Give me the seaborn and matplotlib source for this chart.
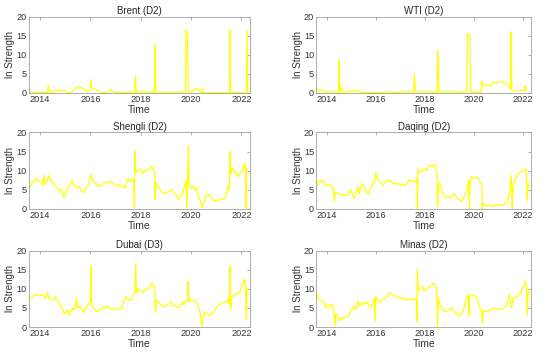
import matplotlib
matplotlib.use("Agg")
import matplotlib.pyplot as plt
import seaborn as sns
import pandas as pd

# ---- data: (decimal year, ln strength) ----
brent = [(2013.57,0.2),(2013.75,0.1),(2013.9,0.3),(2014.05,0.1),(2014.3,0.2),(2014.33,2.0),(2014.36,0.2),
         (2014.5,0.2),(2014.6,0.7),(2014.7,0.8),(2014.8,0.5),(2014.9,0.8),(2015.0,0.6),(2015.07,0.1),
         (2015.25,0.1),(2015.35,0.8),(2015.45,1.5),(2015.55,1.3),(2015.65,1.4),(2015.75,1.0),(2015.85,0.4),
         (2015.98,0.8),(2016.02,3.5),(2016.05,1.2),(2016.15,1.0),(2016.3,0.6),(2016.4,0.1),(2016.6,0.1),
         (2016.72,0.4),(2016.8,1.0),(2016.88,0.4),(2017.0,0.1),(2017.4,0.1),(2017.76,0.2),(2017.79,4.5),
         (2017.82,0.2),(2018.0,0.3),(2018.3,0.2),(2018.54,0.2),(2018.56,12.5),(2018.58,10.0),(2018.6,0.3),
         (2018.9,0.2),(2019.3,0.2),(2019.7,0.2),(2019.78,0.3),(2019.8,16.5),(2019.83,16.0),(2019.86,15.5),
         (2019.88,0.3),(2020.0,0.2),(2020.12,0.8),(2020.2,1.2),(2020.3,0.8),(2020.38,0.2),(2020.43,0.2),
         (2020.45,1.3),(2020.47,0.1),(2020.7,0.1),(2021.0,0.1),(2021.3,0.1),(2021.53,0.1),(2021.55,16.5),
         (2021.57,0.2),(2021.8,0.1),(2022.0,0.1),(2022.2,0.1),(2022.22,16.5),(2022.25,0.2)]

wti = [(2013.57,0.8),(2013.65,1.0),(2013.72,0.5),(2013.8,0.9),(2013.9,0.3),(2014.1,0.2),(2014.3,0.3),
       (2014.48,0.2),(2014.5,8.5),(2014.53,0.3),(2014.6,1.5),(2014.65,0.3),(2014.9,0.2),(2015.0,0.5),
       (2015.1,0.3),(2015.2,0.6),(2015.3,0.7),(2015.4,0.2),(2015.8,0.1),(2016.2,0.1),(2016.5,0.3),
       (2016.7,0.1),(2017.0,0.2),(2017.3,0.3),(2017.45,0.2),(2017.55,0.2),(2017.58,5.0),(2017.61,0.3),
       (2018.0,0.3),(2018.3,0.2),(2018.5,0.2),(2018.53,11.0),(2018.55,7.5),(2018.57,0.3),(2018.8,0.2),
       (2019.0,0.3),(2019.3,0.2),(2019.6,0.2),(2019.72,0.3),(2019.74,15.5),(2019.8,15.2),(2019.85,15.0),
       (2019.87,0.3),(2020.1,0.2),(2020.3,0.2),(2020.33,3.2),(2020.38,2.0),(2020.45,1.8),(2020.55,2.0),
       (2020.65,1.8),(2020.75,2.2),(2020.8,2.8),(2020.9,2.6),(2021.0,2.8),(2021.1,3.0),(2021.2,2.9),
       (2021.3,2.6),(2021.4,2.2),(2021.5,1.0),(2021.52,16.0),(2021.55,0.8),(2021.7,0.5),(2021.9,0.6),
       (2022.05,0.7),(2022.1,2.0),(2022.15,0.5)]

shengli = [(2013.57,6.0),(2013.62,5.8),(2013.7,7.0),(2013.8,7.5),(2013.88,8.0),(2013.95,7.3),(2014.05,6.8),
           (2014.1,6.2),(2014.15,8.8),(2014.2,6.5),(2014.28,7.0),(2014.35,8.8),(2014.42,7.5),(2014.5,6.8),
           (2014.6,6.0),(2014.7,5.5),(2014.78,4.8),(2014.85,5.2),(2014.9,4.0),(2014.95,3.0),(2015.02,4.5),
           (2015.1,5.5),(2015.2,6.5),(2015.28,7.5),(2015.35,6.0),(2015.45,5.5),(2015.55,5.8),(2015.65,4.8),
           (2015.75,4.3),(2015.85,5.5),(2015.92,6.3),(2015.98,7.5),(2016.02,9.0),(2016.06,7.8),(2016.15,7.0),
           (2016.25,6.5),(2016.35,5.8),(2016.45,6.3),(2016.55,6.8),(2016.7,7.0),(2016.8,7.3),(2016.9,6.5),
           (2017.0,6.0),(2017.1,6.5),(2017.2,5.8),(2017.3,6.2),(2017.38,5.5),(2017.45,7.0),(2017.5,8.0),
           (2017.58,7.2),(2017.65,7.8),(2017.72,7.5),(2017.75,0.2),(2017.77,15.0),(2017.8,9.5),(2017.88,10.0),
           (2018.0,10.5),(2018.08,9.2),(2018.15,10.0),(2018.25,10.2),(2018.35,10.5),(2018.42,11.2),(2018.5,10.5),
           (2018.55,9.5),(2018.57,2.5),(2018.6,7.0),(2018.68,6.0),(2018.75,5.5),(2018.82,4.5),(2018.95,4.0),
           (2019.05,4.3),(2019.15,4.8),(2019.25,5.0),(2019.32,4.2),(2019.42,3.5),(2019.5,2.5),(2019.6,3.5),
           (2019.68,4.5),(2019.75,6.0),(2019.8,7.5),(2019.83,0.0),(2019.86,7.0),(2019.89,16.5),(2019.92,6.5),
           (2020.0,5.5),(2020.08,6.0),(2020.15,5.0),(2020.22,5.5),(2020.3,3.0),(2020.38,2.0),(2020.45,0.3),
           (2020.5,1.5),(2020.58,3.0),(2020.65,4.0),(2020.75,3.5),(2020.85,2.5),(2020.95,2.0),(2021.05,2.2),
           (2021.2,2.5),(2021.35,2.8),(2021.42,4.5),(2021.48,6.0),(2021.52,5.0),(2021.55,15.0),(2021.58,9.0),
           (2021.65,10.8),(2021.72,10.0),(2021.8,9.0),(2021.88,8.5),(2021.95,9.5),(2022.05,10.0),(2022.12,12.0),
           (2022.16,11.0),(2022.18,0.0),(2022.2,10.5),(2022.27,10.5)]

daqing = [(2013.57,5.5),(2013.62,6.5),(2013.68,7.5),(2013.75,7.0),(2013.82,7.5),(2013.9,6.5),(2014.0,6.0),
          (2014.08,6.3),(2014.15,6.5),(2014.22,5.5),(2014.28,5.0),(2014.31,2.0),(2014.34,4.5),(2014.45,4.0),
          (2014.55,3.8),(2014.65,3.5),(2014.75,3.8),(2014.85,3.5),(2014.92,4.5),(2015.0,5.0),(2015.05,3.5),
          (2015.12,2.8),(2015.2,4.5),(2015.28,5.8),(2015.32,4.0),(2015.4,6.0),(2015.48,6.5),(2015.55,5.0),
          (2015.62,4.5),(2015.7,3.8),(2015.78,5.5),(2015.85,6.0),(2015.92,7.0),(2015.97,8.0),(2016.0,9.5),
          (2016.05,8.0),(2016.12,7.5),(2016.2,6.8),(2016.3,6.3),(2016.4,7.0),(2016.5,7.5),(2016.6,7.3),
          (2016.7,6.8),(2016.8,6.5),(2016.9,6.8),(2017.0,6.2),(2017.1,6.5),(2017.2,6.0),(2017.3,7.0),
          (2017.38,7.8),(2017.45,7.2),(2017.55,7.5),(2017.62,7.0),(2017.68,7.8),(2017.7,0.0),(2017.72,10.5),
          (2017.8,9.5),(2017.9,10.0),(2018.0,10.5),(2018.08,10.0),(2018.15,11.0),(2018.22,11.5),(2018.3,11.0),
          (2018.38,11.5),(2018.45,11.0),(2018.5,9.0),(2018.52,0.5),(2018.55,5.0),(2018.6,7.0),(2018.68,5.0),
          (2018.75,4.0),(2018.85,3.0),(2018.95,3.2),(2019.05,3.0),(2019.15,3.5),(2019.22,4.0),(2019.3,3.0),
          (2019.4,2.5),(2019.48,2.0),(2019.55,2.5),(2019.62,3.5),(2019.7,4.5),(2019.76,6.5),(2019.8,7.5),
          (2019.82,0.0),(2019.85,7.0),(2019.9,8.5),(2020.0,8.0),(2020.1,8.3),(2020.2,7.8),(2020.28,7.0),
          (2020.33,6.5),(2020.35,0.0),(2020.38,1.5),(2020.45,1.0),(2020.55,0.8),(2020.65,1.2),(2020.75,0.6),
          (2020.85,0.8),(2020.95,1.0),(2021.05,0.8),(2021.15,1.0),(2021.25,1.2),(2021.35,1.8),(2021.42,3.0),
          (2021.48,5.0),(2021.52,9.0),(2021.55,6.0),(2021.57,0.0),(2021.6,5.5),(2021.65,7.0),(2021.72,8.0),
          (2021.8,8.8),(2021.88,9.5),(2021.95,9.8),(2022.05,10.0),(2022.12,10.5),(2022.15,9.5),(2022.18,2.0),
          (2022.22,6.5),(2022.28,6.5)]

dubai = [(2013.57,7.0),(2013.62,7.5),(2013.7,8.0),(2013.8,8.3),(2013.9,8.5),(2014.0,8.3),(2014.1,8.5),
         (2014.18,7.5),(2014.25,7.8),(2014.3,9.2),(2014.35,7.5),(2014.45,7.3),(2014.55,7.0),(2014.62,8.0),
         (2014.7,7.0),(2014.78,6.0),(2014.85,5.5),(2014.92,4.0),(2015.0,3.5),(2015.08,4.5),(2015.15,3.2),
         (2015.22,4.2),(2015.3,5.0),(2015.38,4.5),(2015.45,7.5),(2015.5,5.0),(2015.58,5.5),(2015.65,5.0),
         (2015.72,3.8),(2015.8,5.0),(2015.88,5.5),(2015.95,6.5),(2016.0,6.5),(2016.02,16.0),(2016.05,6.0),
         (2016.12,5.0),(2016.2,4.5),(2016.3,4.0),(2016.4,4.5),(2016.5,5.5),(2016.6,5.0),(2016.7,5.5),
         (2016.8,4.8),(2016.9,4.5),(2017.0,5.0),(2017.1,4.8),(2017.2,4.5),(2017.3,6.0),(2017.38,8.0),
         (2017.45,7.5),(2017.55,7.0),(2017.65,7.5),(2017.72,8.5),(2017.78,9.0),(2017.8,16.5),(2017.83,9.0),
         (2017.9,10.0),(2018.0,9.5),(2018.1,9.0),(2018.18,9.8),(2018.28,10.0),(2018.38,10.5),(2018.45,11.5),
         (2018.52,10.5),(2018.57,9.0),(2018.59,4.0),(2018.62,7.0),(2018.7,6.5),(2018.8,5.8),(2018.9,5.5),
         (2019.0,5.5),(2019.1,6.0),(2019.2,6.5),(2019.3,5.5),(2019.4,5.5),(2019.5,5.0),(2019.58,5.5),
         (2019.65,6.5),(2019.72,5.8),(2019.8,7.0),(2019.86,7.0),(2019.88,12.0),(2019.91,6.5),(2020.0,7.0),
         (2020.1,7.0),(2020.2,6.8),(2020.3,5.0),(2020.38,3.0),(2020.43,0.2),(2020.47,2.0),(2020.55,4.0),
         (2020.65,3.5),(2020.75,3.0),(2020.85,3.5),(2021.0,5.0),(2021.1,6.0),(2021.2,6.0),(2021.3,6.5),
         (2021.4,6.5),(2021.48,7.5),(2021.52,6.0),(2021.55,16.0),(2021.57,4.5),(2021.6,7.5),(2021.68,8.0),
         (2021.75,8.5),(2021.85,9.0),(2021.92,9.0),(2022.0,10.5),(2022.08,12.0),(2022.12,12.5),(2022.16,11.0),
         (2022.19,2.0),(2022.22,10.0),(2022.28,10.0)]

minas = [(2013.57,9.5),(2013.6,8.5),(2013.65,7.5),(2013.72,7.0),(2013.8,7.0),(2013.88,6.5),(2013.95,5.0),
         (2014.02,5.5),(2014.1,5.8),(2014.15,5.0),(2014.2,6.0),(2014.28,5.0),(2014.33,0.3),(2014.36,3.5),
         (2014.42,3.0),(2014.5,1.5),(2014.55,2.5),(2014.62,2.0),(2014.7,2.8),(2014.8,2.5),(2014.9,3.0),
         (2015.0,4.5),(2015.08,5.5),(2015.15,4.5),(2015.22,5.0),(2015.28,7.0),(2015.35,5.5),(2015.42,6.0),
         (2015.5,6.5),(2015.58,6.0),(2015.65,6.5),(2015.72,5.5),(2015.8,5.0),(2015.88,6.5),(2015.94,7.5),
         (2015.97,1.5),(2016.0,8.0),(2016.08,7.0),(2016.18,6.5),(2016.28,7.0),(2016.38,7.5),(2016.48,8.5),
         (2016.58,9.0),(2016.68,8.5),(2016.78,8.0),(2016.9,8.2),(2017.0,7.5),(2017.1,7.8),(2017.2,7.0),
         (2017.3,7.5),(2017.4,7.0),(2017.5,7.5),(2017.58,7.0),(2017.66,7.5),(2017.68,1.5),(2017.7,15.0),
         (2017.73,9.5),(2017.8,10.0),(2017.9,10.5),(2018.0,9.5),(2018.08,10.0),(2018.18,10.5),(2018.28,11.0),
         (2018.38,11.5),(2018.45,10.5),(2018.5,9.0),(2018.52,0.0),(2018.55,7.5),(2018.62,6.0),(2018.7,5.0),
         (2018.8,4.0),(2018.9,4.0),(2019.0,4.5),(2019.1,5.0),(2019.2,4.0),(2019.3,3.5),(2019.4,3.0),
         (2019.5,3.5),(2019.58,4.5),(2019.65,6.0),(2019.72,7.5),(2019.78,8.5),(2019.8,3.0),(2019.83,8.0),
         (2019.9,8.5),(2020.0,8.3),(2020.1,8.0),(2020.18,6.5),(2020.25,5.0),(2020.32,4.0),(2020.36,1.0),
         (2020.4,4.5),(2020.48,4.0),(2020.58,4.2),(2020.7,4.5),(2020.8,5.0),(2020.9,4.8),(2021.0,4.5),
         (2021.1,4.8),(2021.2,5.0),(2021.3,5.5),(2021.38,6.5),(2021.45,8.5),(2021.5,7.0),(2021.55,5.0),
         (2021.6,7.5),(2021.68,7.5),(2021.78,8.0),(2021.88,8.5),(2021.95,9.5),(2022.02,10.5),(2022.1,12.0),
         (2022.15,11.0),(2022.18,3.0),(2022.22,9.5),(2022.28,9.0)]

titles = ["Brent (D2)", "WTI (D2)", "Shengli (D2)", "Daqing (D2)", "Dubai (D3)", "Minas (D2)"]
series = [brent, wti, shengli, daqing, dubai, minas]
x_ticks = [2014, 2016, 2018, 2020, 2022]
y_ticks = [0, 5, 10, 15, 20]

# ---- styling ----
sns.set_style("white")
plt.rcParams["font.family"] = ["Liberation Sans", "DejaVu Sans"]
plt.rcParams["xtick.direction"] = "in"
plt.rcParams["ytick.direction"] = "in"

fig = plt.figure(figsize=(5.5, 3.59), dpi=100)
lefts = [0.053, 0.575]
widths = [0.402, 0.391]
bottoms = [0.741, 0.418, 0.089]
height = 0.213

for i, (name, data) in enumerate(zip(titles, series)):
    r, c = divmod(i, 2)
    ax = fig.add_axes([lefts[c], bottoms[r], widths[c], height])
    df = pd.DataFrame(data, columns=["Time", "ln Strength"])
    sns.lineplot(data=df, x="Time", y="ln Strength", ax=ax, color="#FFFF00",
                 linewidth=0.9, estimator=None, sort=False)
    ax.set_xlim(2013.57, 2022.35)
    ax.set_ylim(0, 20)
    ax.set_xticks(x_ticks)
    ax.set_yticks(y_ticks)
    ax.set_xticklabels([str(t) for t in x_ticks])
    ax.set_yticklabels([str(t) for t in y_ticks])
    ax.tick_params(axis="both", which="both", labelsize=6.6, colors="#333333",
                   length=2.2, width=0.5, pad=1.5, top=True, right=True,
                   labeltop=False, labelright=False)
    ax.tick_params(axis="both", color="#8c8c8c")
    for s in ax.spines.values():
        s.set_color("#a0a0a0")
        s.set_linewidth(0.6)
    ax.set_title(name, fontsize=7, color="#262626", pad=2)
    ax.set_xlabel("Time", fontsize=7.5, color="#333333", labelpad=0.5)
    ax.set_ylabel("ln Strength", fontsize=7, color="#333333", labelpad=1)

fig.savefig("out.png", dpi=100, facecolor="white")
